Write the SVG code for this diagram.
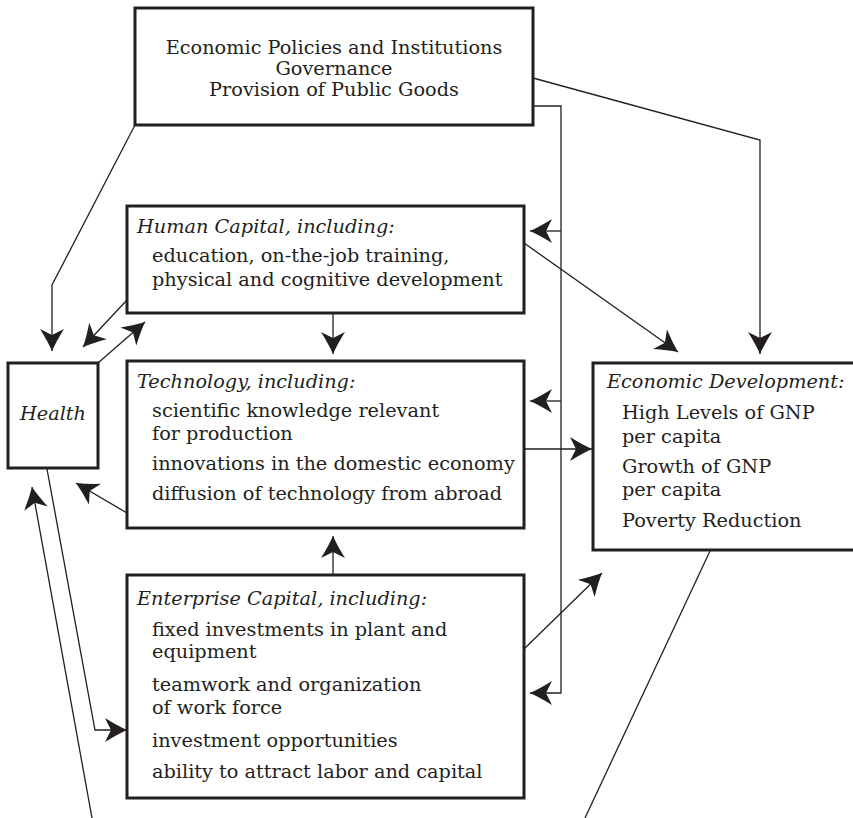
<svg xmlns="http://www.w3.org/2000/svg" width="853" height="818" viewBox="0 0 853 818">
<style>
.box{fill:#fff;stroke:#231f20;stroke-width:3}
.t{font-family:"DejaVu Serif","Liberation Serif",serif;font-size:19.3px;fill:#231f20}
.i{font-style:italic}
.c{text-anchor:middle}
.ln{fill:none;stroke:#231f20;stroke-width:1.3}
.ar{marker-end:url(#ah)}
</style>
<defs>
<marker id="ah" viewBox="-24 -14 26 28" markerWidth="26" markerHeight="28" refX="0" refY="0" orient="auto" markerUnits="userSpaceOnUse">
<path d="M0,0 Q-10,-4.5 -22,-12 L-16,0 L-22,12 Q-10,4.5 0,0 Z" fill="#231f20"/>
</marker>
</defs>
<rect width="853" height="818" fill="#fff"/>
<g id="connectors">
<polyline class="ln ar" points="135,125 52,285 52,351"/>
<line class="ln ar" x1="127" y1="300" x2="83" y2="347"/>
<line class="ln ar" x1="98" y1="363" x2="145" y2="322"/>
<line class="ln ar" x1="333" y1="313" x2="333" y2="354"/>
<line class="ln ar" x1="127" y1="513" x2="76" y2="483"/>
<polyline class="ln ar" points="47,469 95,730 127,730"/>
<line class="ln ar" x1="92" y1="818" x2="32" y2="487"/>
<line class="ln ar" x1="333" y1="575" x2="333" y2="536"/>
<polyline class="ln ar" points="533,78 760,140 760,354"/>
<polyline class="ln ar" points="533,106 561,106 561,693 530,693"/>
<line class="ln ar" x1="561" y1="231" x2="530" y2="231"/>
<line class="ln ar" x1="561" y1="401" x2="530" y2="401"/>
<line class="ln ar" x1="524" y1="243" x2="678" y2="352"/>
<line class="ln ar" x1="524" y1="449" x2="592" y2="449"/>
<line class="ln ar" x1="524" y1="649" x2="602" y2="573"/>
<line class="ln" x1="710" y1="551" x2="585" y2="818"/>
</g>
<g id="policies">
<rect class="box" x="135" y="8" width="398" height="117"/>
<text class="t c" x="334" y="54">Economic Policies and Institutions</text>
<text class="t c" x="334" y="75">Governance</text>
<text class="t c" x="334" y="96">Provision of Public Goods</text>
</g>
<g id="human-capital">
<rect class="box" x="127" y="206" width="397" height="107"/>
<text class="t i" x="137" y="233">Human Capital, including:</text>
<text class="t" x="152" y="262">education, on-the-job training,</text>
<text class="t" x="152" y="286">physical and cognitive development</text>
</g>
<g id="health">
<rect class="box" x="8" y="363" width="90" height="105"/>
<text class="t i c" x="53" y="420">Health</text>
</g>
<g id="technology">
<rect class="box" x="127" y="361" width="397" height="167"/>
<text class="t i" x="137" y="388">Technology, including:</text>
<text class="t" x="152" y="417">scientific knowledge relevant</text>
<text class="t" x="152" y="440">for production</text>
<text class="t" x="152" y="470">innovations in the domestic economy</text>
<text class="t" x="152" y="500">diffusion of technology from abroad</text>
</g>
<g id="enterprise-capital">
<rect class="box" x="127" y="575" width="397" height="223"/>
<text class="t i" x="137" y="605">Enterprise Capital, including:</text>
<text class="t" x="152" y="636">fixed investments in plant and</text>
<text class="t" x="152" y="658">equipment</text>
<text class="t" x="152" y="691">teamwork and organization</text>
<text class="t" x="152" y="714">of work force</text>
<text class="t" x="152" y="747">investment opportunities</text>
<text class="t" x="152" y="778">ability to attract labor and capital</text>
</g>
<g id="economic-development">
<rect class="box" x="593" y="363" width="265" height="187"/>
<text class="t i" x="607" y="388">Economic Development:</text>
<text class="t" x="622" y="419">High Levels of GNP</text>
<text class="t" x="622" y="443">per capita</text>
<text class="t" x="622" y="473">Growth of GNP</text>
<text class="t" x="622" y="496">per capita</text>
<text class="t" x="622" y="527">Poverty Reduction</text>
</g>
</svg>
